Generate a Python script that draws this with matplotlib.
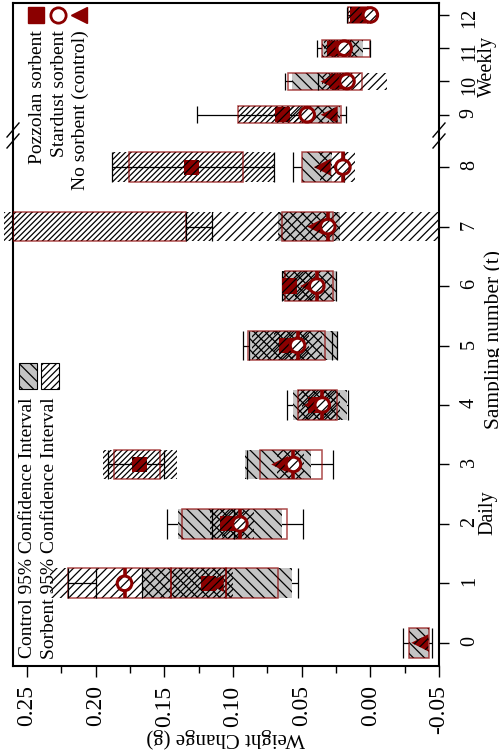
import numpy as np
import matplotlib
matplotlib.use("Agg")
import matplotlib.pyplot as plt
from matplotlib.patches import Rectangle
from matplotlib.lines import Line2D
from matplotlib.ticker import MultipleLocator, FormatStrFormatter

plt.rcParams["font.family"] = ["Liberation Serif", "DejaVu Serif"]
plt.rcParams["axes.unicode_minus"] = False
plt.rcParams["hatch.linewidth"] = 0.9

nan = np.nan
sampling = list(range(13))

# no sorbent (control)
ctrl_mean = [-0.036, 0.113, 0.100, 0.066, 0.042, 0.058, 0.045, 0.040, 0.035, 0.030, 0.030, 0.020, 0.008]
ctrl_lo = [-0.043, 0.057, 0.064, 0.043, 0.017, 0.024, 0.025, 0.022, 0.028, 0.022, 0.020, 0.005, 0.004]
ctrl_hi = [-0.028, 0.166, 0.140, 0.091, 0.056, 0.088, 0.064, 0.067, 0.050, 0.045, 0.057, 0.035, 0.015]
ctrl_red_lo = [-0.043, 0.067, 0.061, 0.035, 0.024, 0.033, 0.027, 0.027, 0.019, 0.021, 0.006, 0.000, 0.002]
ctrl_red_hi = [-0.028, 0.105, 0.137, 0.080, 0.053, 0.089, 0.062, 0.064, 0.050, 0.096, 0.060, 0.035, 0.016]
ctrl_err_lo = [-0.045, 0.053, 0.049, 0.027, 0.016, 0.024, 0.025, nan, 0.019, 0.018, 0.038, 0.000, 0.000]
ctrl_err_hi = [-0.024, 0.166, 0.148, 0.090, 0.061, 0.093, 0.064, nan, 0.056, 0.126, 0.062, 0.039, 0.017]

# pozzolan sorbent
pozz_mean = [nan, 0.118, 0.104, 0.168, 0.040, 0.061, 0.059, nan, 0.130, 0.064, 0.024, 0.026, 0.009]
pozz_lo = [nan, 0.100, 0.092, 0.141, 0.025, 0.045, 0.040, 0.115, 0.070, 0.045, 0.015, 0.014, 0.004]
pozz_hi = [nan, 0.145, 0.117, 0.195, 0.053, 0.086, 0.064, 0.2665, 0.188, 0.096, 0.035, 0.034, 0.016]
pozz_red_lo = [nan, 0.105, nan, 0.153, nan, nan, nan, 0.134, 0.093, nan, nan, nan, nan]
pozz_red_hi = [nan, 0.145, nan, 0.187, nan, nan, nan, 0.2602, 0.176, nan, nan, nan, nan]
pozz_err_lo = [nan, nan, 0.099, 0.150, nan, 0.028, nan, 0.115, 0.070, nan, nan, nan, nan]
pozz_err_hi = [nan, nan, 0.115, 0.191, nan, 0.088, nan, 0.134, 0.188, nan, nan, nan, nan]

# stardust sorbent
star_mean = [nan, 0.179, 0.095, 0.056, 0.035, 0.053, 0.039, 0.031, 0.020, 0.046, 0.017, 0.019, 0.000]
star_lo = [nan, 0.145, 0.085, 0.048, 0.022, 0.035, 0.028, -0.050, 0.011, 0.030, -0.012, 0.008, -0.002]
star_hi = [nan, 0.233, 0.108, 0.068, 0.050, 0.070, 0.055, 0.115, 0.037, 0.060, 0.030, 0.030, 0.008]
star_red_lo = [nan, 0.145, nan, nan, nan, nan, nan, nan, nan, nan, nan, nan, nan]
star_red_hi = [nan, 0.220, nan, nan, nan, nan, nan, nan, nan, nan, nan, nan, nan]
star_err_lo = [nan, 0.200, nan, nan, nan, nan, nan, nan, nan, nan, nan, nan, nan]
star_err_hi = [nan, 0.220, nan, nan, nan, nan, nan, nan, nan, nan, nan, nan, nan]

DARKRED = "#8b0000"
GRAY = "#c4c4c4"
HALF = 0.25


def px(x, y):
    return x / 499, 1 - y / 754


def draw_series(ax, keep, lo, hi, red_lo, red_hi, err_lo, err_hi, face, hatch, z):
    for t in sampling:
        if not keep(t):
            continue
        if not np.isnan(lo[t]):
            ax.add_patch(Rectangle((lo[t], t - HALF), hi[t] - lo[t], 2 * HALF,
                                   facecolor=face, edgecolor="black", linewidth=0,
                                   hatch=hatch, zorder=z, clip_on=False))
        if not np.isnan(red_lo[t]):
            ax.add_patch(Rectangle((red_lo[t], t - HALF), red_hi[t] - red_lo[t], 2 * HALF,
                                   fill=False, edgecolor=DARKRED, alpha=0.7,
                                   linewidth=1.1, zorder=3))
        if not np.isnan(err_lo[t]):
            ax.hlines(t, err_lo[t], err_hi[t], color="black", linewidth=0.9, zorder=1.5)
            ax.vlines([err_lo[t], err_hi[t]], t - HALF, t + HALF,
                      color="black", linewidth=0.9, zorder=3.2)


def draw_markers(ax, keep):
    ts = [t for t in sampling if keep(t)]
    cm = [ctrl_mean[t] for t in ts]
    pm = [pozz_mean[t] for t in ts]
    sm = [star_mean[t] for t in ts]
    ax.scatter(cm, ts, marker="<", s=150, facecolor=DARKRED, edgecolor="black",
               linewidths=0, hatch="////", zorder=4)
    ax.scatter(pm, ts, marker="s", s=120, facecolor=DARKRED, edgecolor="black",
               linewidths=0, hatch="////", zorder=4.1)
    daily = [t for t in ts if t <= 8 and not np.isnan(star_mean[t])]
    ax.vlines([star_mean[t] for t in daily], [t - HALF for t in daily],
              [t + HALF for t in daily], color=DARKRED, linewidth=2.6, zorder=4.15)
    ax.scatter(sm, ts, marker="o", s=110, facecolor="white", edgecolor="black",
               linewidths=0, hatch="////", zorder=4.2)
    ax.scatter(sm, ts, marker="o", s=110, facecolor="none", edgecolor=DARKRED,
               linewidths=2.2, zorder=4.3)


def draw_panel(ax, keep):
    draw_series(ax, keep, ctrl_lo, ctrl_hi, ctrl_red_lo, ctrl_red_hi,
                ctrl_err_lo, ctrl_err_hi, GRAY, "\\\\\\", 2.0)
    draw_series(ax, keep, pozz_lo, pozz_hi, pozz_red_lo, pozz_red_hi,
                pozz_err_lo, pozz_err_hi, "none", "//////", 2.1)
    draw_series(ax, keep, star_lo, star_hi, star_red_lo, star_red_hi,
                star_err_lo, star_err_hi, "none", "////", 2.2)
    draw_markers(ax, keep)


fig = plt.figure(figsize=(4.99, 7.54), dpi=100)
ax_lo = fig.add_axes([13 / 499, 88 / 754, 426 / 499, 528 / 754])
ax_hi = fig.add_axes([13 / 499, 616 / 754, 426 / 499, 135 / 754])

draw_panel(ax_lo, lambda t: t <= 8)
draw_panel(ax_hi, lambda t: t >= 9)

for ax in (ax_lo, ax_hi):
    ax.set_xlim(0.2602, -0.05)
    for side in ax.spines.values():
        side.set_linewidth(1.5)
    ax.yaxis.tick_right()
    ax.tick_params(axis="y", which="both", left=False, right=True, direction="out",
                   length=7, width=1, labelsize=14.5, labelrotation=90, pad=8)

ax_lo.set_ylim(-0.39, 8.49)
ax_lo.set_yticks(sampling[:9])
ax_lo.spines["top"].set_visible(False)
ax_lo.xaxis.set_major_locator(MultipleLocator(0.05))
ax_lo.xaxis.set_minor_locator(MultipleLocator(0.025))
ax_lo.xaxis.set_major_formatter(FormatStrFormatter("%.2f"))
ax_lo.tick_params(axis="x", which="major", direction="out", length=8, width=1,
                  labelsize=17, labelrotation=90, pad=6)
ax_lo.tick_params(axis="x", which="minor", direction="out", length=5, width=1)

ax_hi.set_ylim(8.3, 12.36)
ax_hi.set_yticks(sampling[9:])
ax_hi.spines["bottom"].set_visible(False)
ax_hi.tick_params(axis="x", which="both", bottom=False, labelbottom=False)

# axis break marks
for x0 in (13, 439):
    for y0 in (131, 142):
        a = px(x0 + 6, y0 - 8)
        b = px(x0 - 6, y0 + 6)
        fig.add_artist(Line2D([a[0], b[0]], [a[1], b[1]], color="black", linewidth=1))

# labels
fig.text(*px(226, 738), "Weight Change (g)", rotation=180, ha="center", va="center", fontsize=15)
fig.text(*px(484, 340), "Sampling number (t)", rotation=90, ha="left", va="center", fontsize=15.5)
fig.text(*px(478, 513), "Daily", rotation=90, ha="left", va="center", fontsize=14.5)
fig.text(*px(478, 66), "Weekly", rotation=90, ha="left", va="center", fontsize=14.5)

# confidence interval legend
fig.text(*px(28, 397), "Control 95% Confidence Interval", rotation=90, ha="center", va="top", fontsize=14)
fig.text(*px(50, 397), "Sorbent 95% Confidence Interval", rotation=90, ha="center", va="top", fontsize=14)
x, y = px(19, 389)
fig.add_artist(Rectangle((x, y), 18 / 499, 26 / 754, transform=fig.transFigure,
                         facecolor=GRAY, edgecolor="black", linewidth=0.8, hatch="\\\\\\"))
x, y = px(41, 389)
fig.add_artist(Rectangle((x, y), 18 / 499, 26 / 754, transform=fig.transFigure,
                         facecolor="white", edgecolor="black", linewidth=0.8, hatch="/////"))

# marker legend
legend_names = ["Pozzolan sorbent", "Stardust sorbent", "No sorbent (control)"]
legend_marks = [("s", DARKRED, DARKRED), ("o", "white", DARKRED), ("<", DARKRED, DARKRED)]
for xc, name, (mk, fc, ec) in zip((37, 59, 80), legend_names, legend_marks):
    fig.text(*px(xc, 30), name, rotation=90, ha="center", va="top", fontsize=14)
    mx, my = px(xc - 1, 15)
    fig.add_artist(Line2D([mx], [my], marker=mk, markersize=11, markerfacecolor=fc,
                          markeredgecolor=ec, markeredgewidth=2 if mk == "o" else 1,
                          linestyle="none", transform=fig.transFigure))

fig.savefig("out.png", dpi=100)
